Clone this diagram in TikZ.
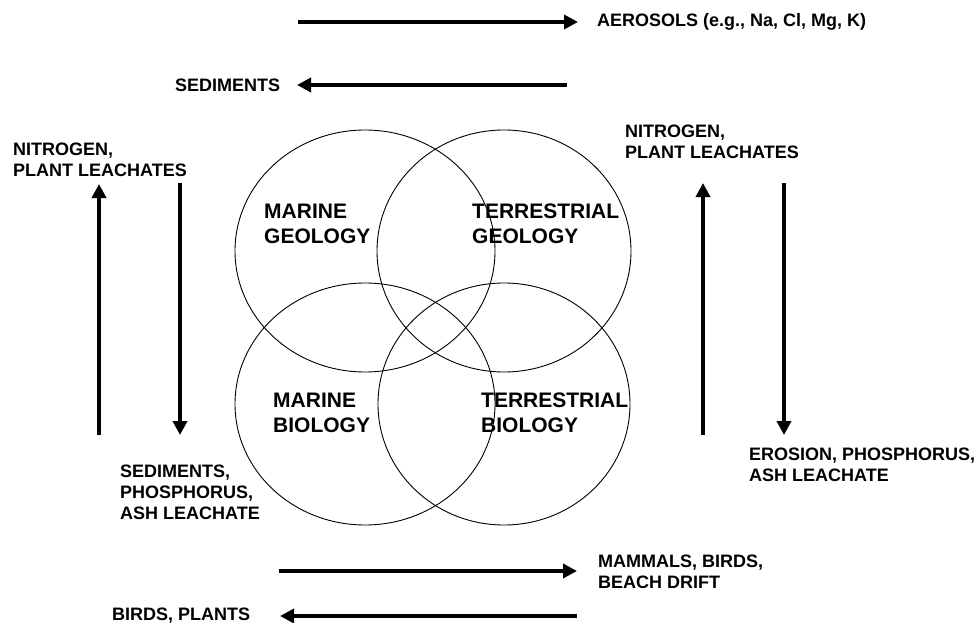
\documentclass[tikz,border=0pt]{standalone}
\usepackage{fontspec}
\setmainfont{Liberation Sans}
\usetikzlibrary{arrows.meta}
\begin{document}
\begin{tikzpicture}[x=1pt, y=-1pt,
  lab/.style={anchor=north west, inner sep=0, align=left, font=\fontsize{18}{21}\selectfont\bfseries},
  big/.style={anchor=north west, inner sep=0, align=left, font=\fontsize{21}{25}\selectfont\bfseries},
  flow/.style={line width=4.5pt, -{Triangle[length=14pt, width=14pt]}},
  ring/.style={line width=0.9pt}]
\useasboundingbox (0,0) rectangle (975,623);
\draw[ring] (365,251) ellipse [x radius=130pt, y radius=121pt];
\draw[ring] (504,251) ellipse [x radius=127pt, y radius=121pt];
\draw[ring] (365,404) ellipse [x radius=130pt, y radius=121pt];
\draw[ring] (504,404) ellipse [x radius=126pt, y radius=121pt];
\node[big] (mgeo) at (264,204){MARINE\\GEOLOGY};
\node[big] (tgeo) at (472,204){TERRESTRIAL\\GEOLOGY};
\node[big] (mbio) at (273,393){MARINE\\BIOLOGY};
\node[big] (tbio) at (481,393){TERRESTRIAL\\BIOLOGY};
\node[lab, anchor=base west] (aer) at (597,27){AEROSOLS (e.g., Na, Cl, Mg, K)};
\node[lab, anchor=base west] (sedt) at (175,92){SEDIMENTS};
\node[lab] (nitl) at (13,143){NITROGEN,\\PLANT LEACHATES};
\node[lab] (nitr) at (625,125){NITROGEN,\\PLANT LEACHATES};
\node[lab] (sedl) at (120,465){SEDIMENTS,\\PHOSPHORUS,\\ASH LEACHATE};
\node[lab] (ero) at (749,448){EROSION, PHOSPHORUS,\\ASH LEACHATE};
\node[lab] (mam) at (598,555){MAMMALS, BIRDS,\\BEACH DRIFT};
\node[lab, anchor=base west] (bir) at (112,620){BIRDS, PLANTS};
\coordinate (f1a) at (298,22);
\coordinate (f1b) at (578,22);
\coordinate (f2a) at (567,85);
\coordinate (f2b) at (297,85);
\coordinate (f3a) at (99,435);
\coordinate (f3b) at (99,184);
\coordinate (f4a) at (180,183);
\coordinate (f4b) at (180,435);
\coordinate (f5a) at (703,435);
\coordinate (f5b) at (703,183);
\coordinate (f6a) at (784,183);
\coordinate (f6b) at (784,435);
\coordinate (f7a) at (279,571);
\coordinate (f7b) at (577,571);
\coordinate (f8a) at (577,616);
\coordinate (f8b) at (280,616);
\draw[flow](f1a) -- (f1b);
\draw[flow](f2a) -- (f2b);
\draw[flow](f3a) -- (f3b);
\draw[flow](f4a) -- (f4b);
\draw[flow](f5a) -- (f5b);
\draw[flow](f6a) -- (f6b);
\draw[flow](f7a) -- (f7b);
\draw[flow](f8a) -- (f8b);

\end{tikzpicture}
\end{document}
